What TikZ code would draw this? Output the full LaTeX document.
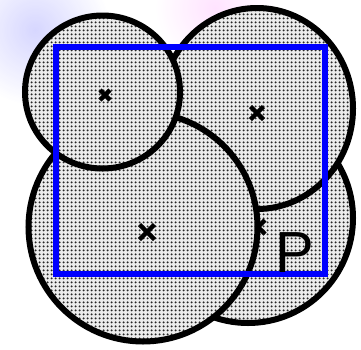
\documentclass[tikz,border=0pt]{standalone}
\usepackage{fontspec}
\setmainfont{Liberation Sans}
\usetikzlibrary{patterns.meta}
\tikzset{pics/xmark/.style={code={\draw[line width=4.5pt] (-#1,-#1)--(#1,#1) (-#1,#1)--(#1,-#1);}}}
\begin{document}
\begin{tikzpicture}[x=1pt,y=-1pt,
  disc/.style={line width=6pt,preaction={fill=gray!15},
    preaction={pattern={Dots[radius=1.35pt,distance=4pt]},pattern color=black!85}}]
\useasboundingbox (0,0) rectangle (361,349);
% faint slide background
\shade[inner color=blue!20,outer color=white,opacity=0.8] (35,30) circle[radius=75];
\shade[inner color=magenta!14,outer color=white,opacity=0.8] (215,8) circle[radius=60];
% four discs, lowest first
\draw[disc] (248,218) circle[radius=105];
\pic at (258,227) {xmark=7};
\draw[disc] (257,108.5) ellipse[x radius=96,y radius=100.5];
\pic at (257,113) {xmark=6.5};
\draw[disc] (143,227) circle[radius=114.5];
\pic at (147,232) {xmark=7.5};
\draw[disc] (102.5,92) ellipse[x radius=77.5,y radius=76.5];
\pic at (105,95) {xmark=5};
% window
\draw[blue,line width=6pt] (56.3,47) rectangle (325,274);
\node[anchor=base west,inner sep=0,font=\fontsize{58}{58}\selectfont] (P) at (275,272) {P};
\end{tikzpicture}
\end{document}
